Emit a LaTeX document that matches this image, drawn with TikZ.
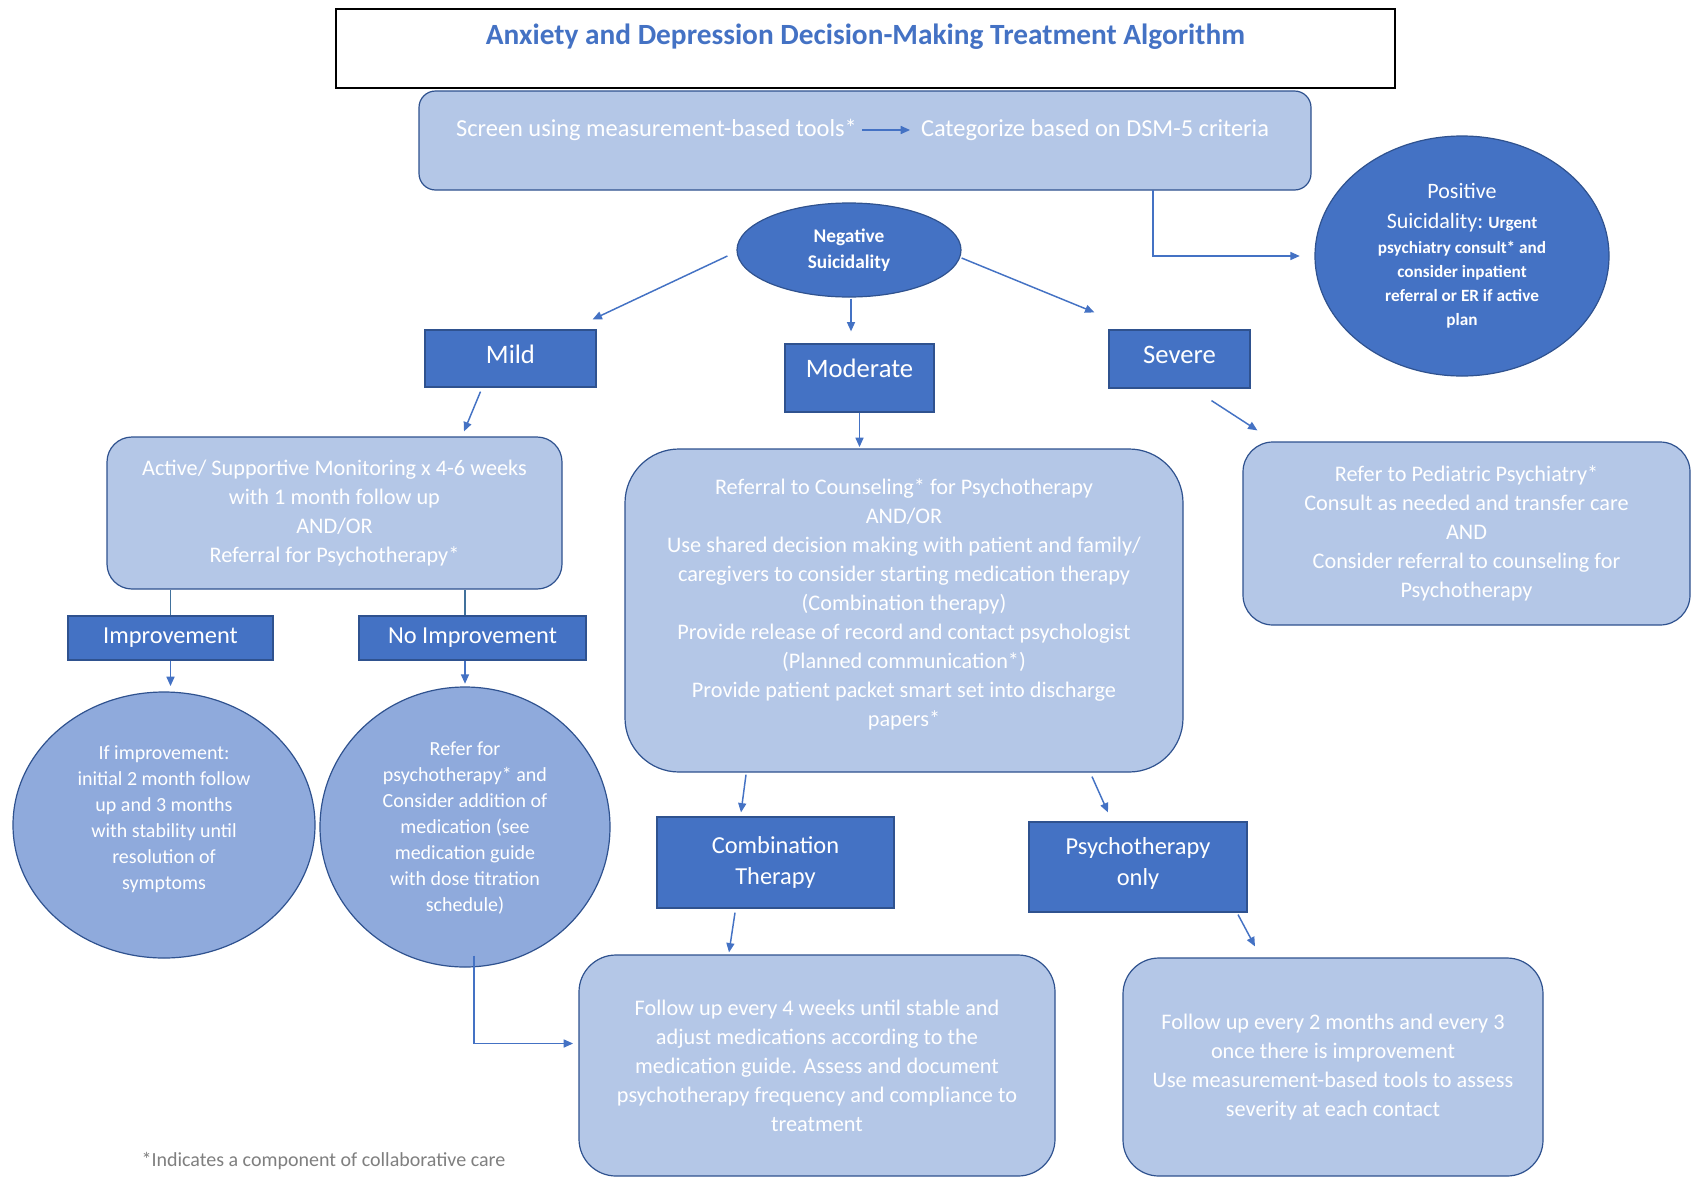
\documentclass[tikz,border=0pt]{standalone}
\usepackage{fontspec}
\setmainfont{Carlito}
\usetikzlibrary{arrows.meta,shapes.geometric,calc}
\definecolor{dark}{HTML}{4472C4}
\definecolor{edge}{HTML}{2F528F}
\definecolor{light}{HTML}{B4C7E7}
\definecolor{mid}{HTML}{8FAADC}
\definecolor{foot}{HTML}{7F7F7F}
\definecolor{linec}{HTML}{41719C}
\begin{document}
\begin{tikzpicture}[x=0.75pt,y=-0.75pt,
  darkbox/.style={draw=edge, fill=dark, line width=0.9pt, text=white, inner sep=0pt, align=center},
  lightbox/.style={draw=edge, fill=light, line width=0.9pt, text=white, inner sep=0pt, align=center, font=\fontsize{16.7}{21.75}\selectfont},
  midcirc/.style={ellipse, draw=edge, fill=mid, line width=0.9pt, text=white, inner sep=0pt, align=center, font=\fontsize{15}{19.5}\selectfont},
  darkell/.style={ellipse, draw=edge, fill=dark, line width=0.9pt, text=white, inner sep=0pt, align=center},
  arr/.style={draw=dark, line width=1.1pt, -{Triangle[length=7pt,width=6pt]}},
  ln/.style={draw=linec, line width=0.9pt},
  lbl/.style={text=white, inner sep=0pt, align=center}]
\fill[white] (0,0) rectangle (1691,1178);
\useasboundingbox (0,0) rectangle (1691,1178);

% title
\node[draw=black, line width=1pt, fill=white, minimum width=794.25pt, minimum height=59.25pt, inner sep=0pt] (titlebox) at (865.5,48.5) {};
\node[text=dark, font=\bfseries\fontsize{22}{26}\selectfont, inner sep=0pt] (title) at (865.5,37) {Anxiety and Depression Decision-Making Treatment Algorithm};

% screening
\node[lightbox, rounded corners=12.4pt, minimum width=669pt, minimum height=74.25pt] (screen) at (865,140.5) {};
\node[lbl, font=\fontsize{18.3}{22}\selectfont, inner sep=2pt] (scr1) at (656.5,130) {Screen using measurement-based tools*};
\node[lbl, font=\fontsize{18.3}{22}\selectfont, inner sep=2pt] (scr2) at (1095,130) {Categorize based on DSM-5 criteria};
\draw[arr, shorten <=2pt, shorten >=6pt] (scr1.east) -- (scr2.west);

% positive suicidality
\node[darkell, minimum width=220.5pt, minimum height=180pt, font=\bfseries\fontsize{12.9}{18}\selectfont] (positive) at (1462,256)
 {{\mdseries\fontsize{16.5}{22}\selectfont Positive}\\[4pt]
  {\mdseries\fontsize{16.5}{22}\selectfont Suicidality:} Urgent\\[1pt]
  psychiatry consult* and\\consider inpatient\\referral or ER if active\\plan};
\coordinate (sp) at (1153,190);
\draw[arr, shorten >=11pt] (sp) |- (positive.west);

% negative suicidality
\node[darkell, minimum width=168pt, minimum height=70.5pt, font=\bfseries\fontsize{14.5}{19.5}\selectfont] (negative) at (849,250) {Negative\\Suicidality};

% severity boxes
\node[darkbox, minimum width=128.25pt, minimum height=42.75pt, font=\fontsize{20}{24}\selectfont, text depth=6pt] (mild) at (510.5,358.5) {Mild};
\node[darkbox, minimum width=111.75pt, minimum height=51pt, font=\fontsize{20}{24}\selectfont, text depth=15pt] (moderate) at (859.5,378) {Moderate};
\node[darkbox, minimum width=105.75pt, minimum height=43.5pt, font=\fontsize{20}{24}\selectfont, text depth=6pt] (severe) at (1179.5,359) {Severe};

\draw[arr] ($(negative.west)+(-9,6)$) -- ($(mild.north east)+(-4,-10)$);
\draw[arr, shorten >=9pt] ($(negative.south)+(2,1)$) -- ($(moderate.north)+(-8.5,0)$);
\draw[arr] ($(negative.east)+(0,8)$) -- ($(severe.north west)+(-14,-17)$);

% mild branch
\node[lightbox, rounded corners=18.75pt, minimum width=341.25pt, minimum height=114pt] (active) at (334.5,513)
 {Active/ Supportive Monitoring x 4-6 weeks\\with 1 month follow up\\AND/OR\\Referral for Psychotherapy*};
\draw[arr] ($(mild.south)+(-30,4)$) -- ($(active.north)+(129.5,-5)$);

\node[darkbox, minimum width=153.75pt, minimum height=33pt, font=\fontsize{18.3}{22}\selectfont] (improv) at (170.5,638) {Improvement};
\node[darkbox, minimum width=170.25pt, minimum height=33pt, font=\fontsize{18.3}{22}\selectfont] (noimp) at (472.5,638) {No Improvement};
\draw[ln] (improv.north) -- (improv.north |- active.south);
\draw[ln] ($(noimp.north)+(-7.5,0)$) -- ($(noimp.north |- active.south)+(-7.5,0)$);

\node[midcirc, minimum width=226.5pt, minimum height=199.5pt, text depth=11pt] (circ1) at (164,825)
 {If improvement:\\initial 2 month follow\\up and 3 months\\with stability until\\resolution of\\symptoms};
\node[midcirc, minimum width=217.5pt, minimum height=210pt, text depth=0pt] (circ2) at (465,827)
 {Refer for\\psychotherapy* and\\Consider addition of\\medication (see\\medication guide\\with dose titration\\schedule)};
\draw[arr, shorten >=4pt] (improv.south) -- (improv.south |- circ1.north);
\draw[arr, shorten >=2pt] ($(noimp.south)+(-7.5,0)$) -- ($(noimp.south |- circ2.north)+(-7.5,0)$);

% moderate branch
\node[lightbox, rounded corners=40.5pt, minimum width=418.5pt, minimum height=242.25pt, text depth=12pt] (referral) at (904,610.5)
 {Referral to Counseling* for Psychotherapy\\AND/OR\\Use shared decision making with patient and family/\\caregivers to consider starting medication therapy\\(Combination therapy)\\Provide release of record and contact psychologist\\(Planned communication*)\\Provide patient packet smart set into discharge\\papers*};
\draw[arr, shorten >=1pt] (moderate.south) -- (moderate.south |- referral.north);

\node[darkbox, minimum width=177.75pt, minimum height=68.25pt, font=\fontsize{18.3}{23}\selectfont] (combo) at (775.5,862.5) {Combination\\Therapy};
\node[darkbox, minimum width=163.5pt, minimum height=67.5pt, font=\fontsize{18.3}{23}\selectfont, text depth=8pt] (psych) at (1138,867) {Psychotherapy\\only};
\draw[arr] ($(referral.south)+(-158,2)$) -- ($(combo.north)+(-34.5,-4)$);
\draw[arr] ($(referral.south)+(188,4)$) -- ($(psych.north)+(-30,-9)$);

\node[lightbox, rounded corners=27.75pt, minimum width=357pt, minimum height=165.75pt] (follow4) at (817,1065.5)
 {Follow up every 4 weeks until stable and\\adjust medications according to the\\medication guide. Assess and document\\psychotherapy frequency and compliance to\\treatment};
\node[lightbox, rounded corners=27pt, minimum width=315pt, minimum height=163.5pt] (follow2) at (1333,1067)
 {Follow up every 2 months and every 3\\once there is improvement\\Use measurement-based tools to assess\\severity at each contact};
\draw[arr] ($(combo.south)+(-40.5,4)$) -- ($(follow4.north)+(-88,-2)$);
\draw[arr] ($(psych.south)+(100,2)$) -- ($(follow2.north)+(-78,-11)$);
\draw[arr, shorten >=4pt] ($(circ2.south)+(9,-12)$) |- ($(follow4.west)+(0,-22)$);

% severe branch
\node[lightbox, rounded corners=22.5pt, minimum width=335.25pt, minimum height=137.25pt] (pediatric) at (1466.5,533.5)
 {Refer to Pediatric Psychiatry*\\Consult as needed and transfer care\\AND\\Consider referral to counseling for\\Psychotherapy};
\draw[arr] ($(severe.south)+(32,12)$) -- ($(pediatric.north west)+(15,-11)$);

% footnote
\node[text=foot, font=\fontsize{15}{18}\selectfont, inner sep=0pt] (footnote) at (323.5,1161) {*Indicates a component of collaborative care};
\end{tikzpicture}
\end{document}
